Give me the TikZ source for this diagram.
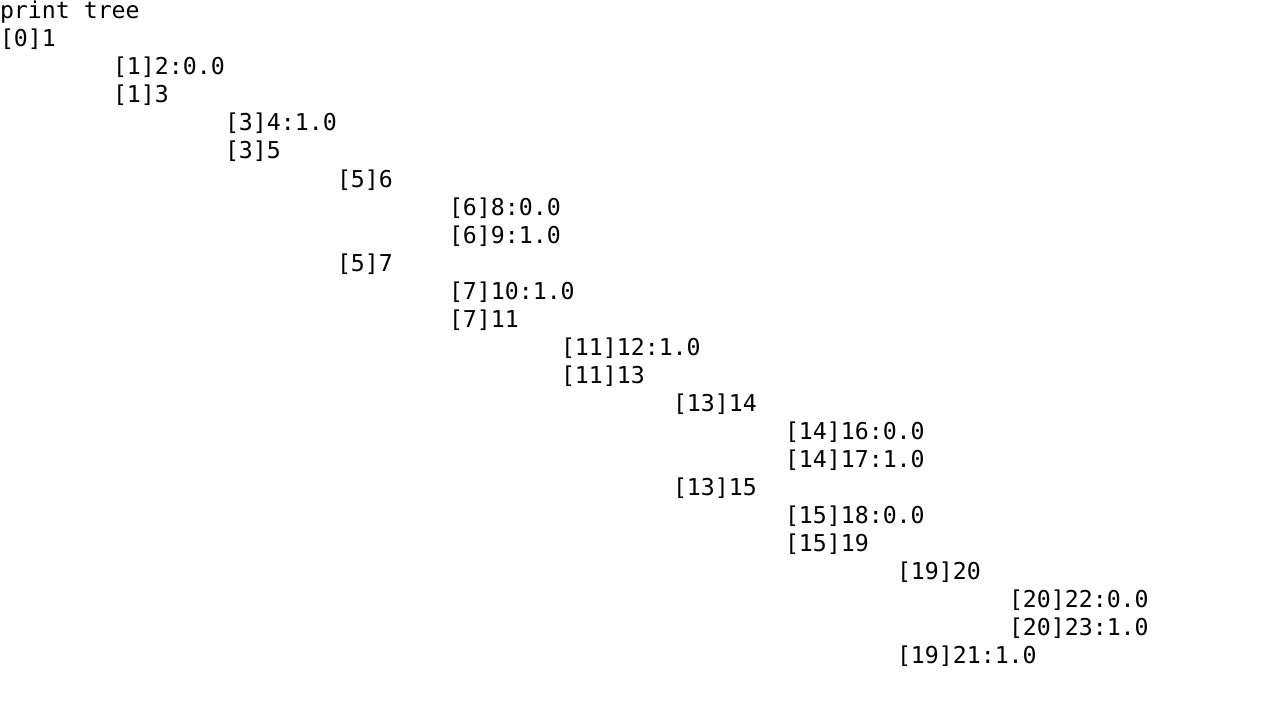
\documentclass[tikz,border=0pt]{standalone}
\usepackage{fontspec}
\setmonofont{DejaVu Sans Mono}
\usetikzlibrary{positioning}

\begin{document}
\begin{tikzpicture}[x=1pt,y=1pt,
    every node/.style={inner sep=0pt,outer sep=0pt,anchor=base west,
      font=\ttfamily\fontsize{23.2}{28}\selectfont}]
    \useasboundingbox (0,0) rectangle (1280,-706);
       \node (title) at (0,-19) {print tree};
       \node (n1)  at (0,-47)   {[0]1};
        \node (n2)  at (113,-75)  {[1]2:0.0};
        \node (n3)  at (113,-103) {[1]3};
         \node (n4)  at (225,-131) {[3]4:1.0};
         \node (n5)  at (225,-159) {[3]5};
          \node (n6)  at (337,-187) {[5]6};
           \node (n8)  at (449,-215) {[6]8:0.0};
           \node (n9)  at (449,-243) {[6]9:1.0};
          \node (n7)  at (337,-271) {[5]7};
           \node (n10) at (449,-299) {[7]10:1.0};
           \node (n11) at (449,-327) {[7]11};
            \node (n12) at (561,-355) {[11]12:1.0};
            \node (n13) at (561,-383) {[11]13};
             \node (n14) at (673,-411) {[13]14};
              \node (n16) at (785,-439) {[14]16:0.0};
              \node (n17) at (785,-467) {[14]17:1.0};
             \node (n15) at (673,-495) {[13]15};
              \node (n18) at (785,-523) {[15]18:0.0};
              \node (n19) at (785,-551) {[15]19};
               \node (n20) at (897,-579) {[19]20};
                \node (n22) at (1009,-607) {[20]22:0.0};
                \node (n23) at (1009,-635) {[20]23:1.0};
               \node (n21) at (897,-663) {[19]21:1.0};
    \end{tikzpicture}
\end{document}
